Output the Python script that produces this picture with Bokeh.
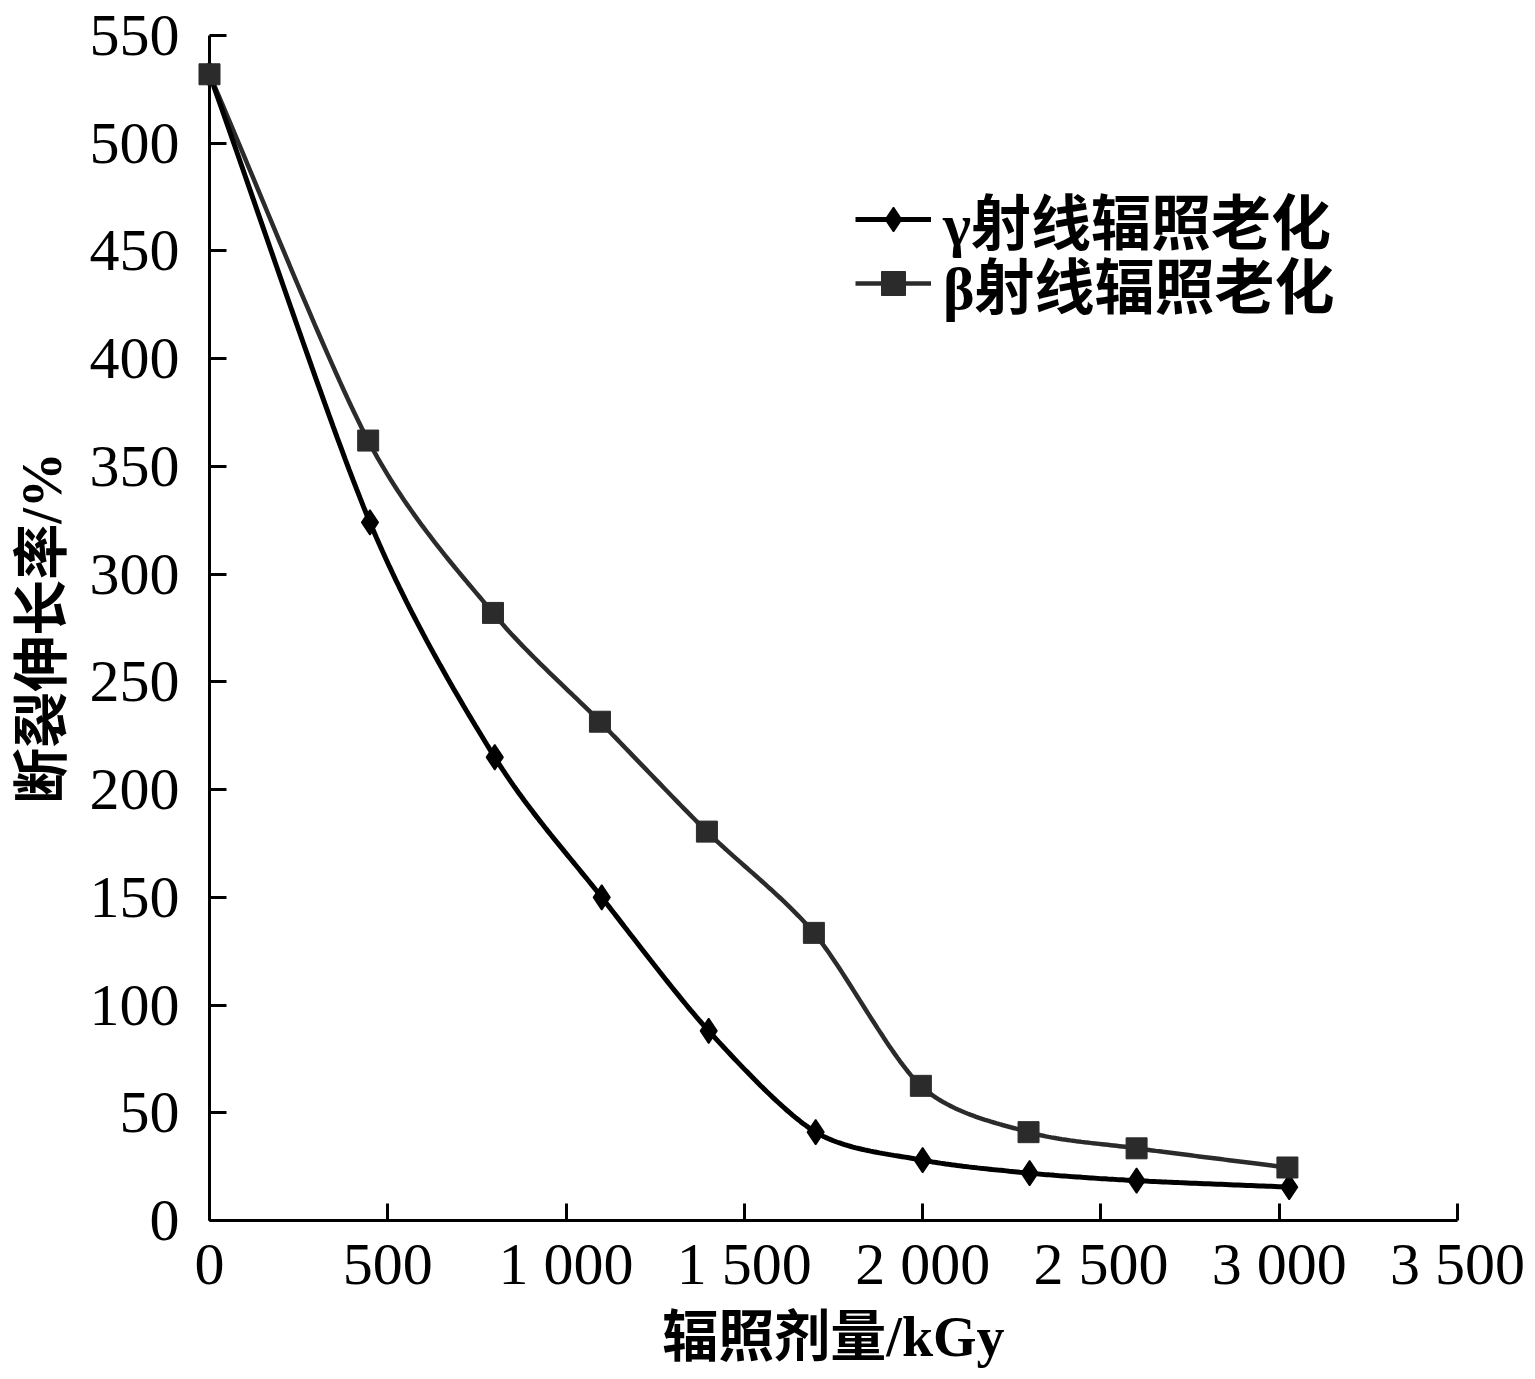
import numpy as np
from bokeh.plotting import figure
from bokeh.models import Range1d, Legend, LegendItem, FixedTicker
from bokeh.embed import file_html
from bokeh.resources import INLINE

# ---- data ----
gamma_dose = [0, 450, 800, 1100, 1400, 1700, 2000, 2300, 2600, 3028]
gamma_elong = [532, 324, 215, 150, 88, 41, 28, 22, 18.5, 15.5]
beta_dose = [0, 445, 795, 1095, 1395, 1695, 1995, 2297, 2600, 3023]
beta_elong = [532, 362, 282, 231.5, 180.5, 133.5, 62.5, 41, 33.5, 24.6]

x_ticks = [0, 500, 1000, 1500, 2000, 2500, 3000, 3500]
x_tick_labels = ["0", "500", "1 000", "1 500", "2 000", "2 500", "3 000", "3 500"]
y_ticks = [0, 50, 100, 150, 200, 250, 300, 350, 400, 450, 500, 550]

series_names = ["γ射线辐照老化", "β射线辐照老化"]
x_title = "辐照剂量/kGy"
y_title = "断裂伸长率/%"

X_MAX, Y_MAX = 3500, 550
FRAME_W, FRAME_H = 1248, 1185


def smooth(xs, ys, n=40):
    """Catmull-Rom style smoothing of the drawn line through the data points."""
    px = np.asarray(xs, float) / X_MAX * FRAME_W
    py = np.asarray(ys, float) / Y_MAX * FRAME_H
    P = np.column_stack([px, py])
    m = len(P)
    T = np.zeros_like(P)
    for i in range(m):
        if i == 0:
            T[i] = (P[1] - P[0])
        elif i == m - 1:
            T[i] = (P[-1] - P[-2])
        else:
            T[i] = (P[i + 1] - P[i - 1]) / 2.0
    out = []
    t = np.linspace(0, 1, n)
    h00 = 2 * t**3 - 3 * t**2 + 1
    h10 = t**3 - 2 * t**2 + t
    h01 = -2 * t**3 + 3 * t**2
    h11 = t**3 - t**2
    for i in range(m - 1):
        seg = (h00[:, None] * P[i] + h10[:, None] * T[i] * 0.85
               + h01[:, None] * P[i + 1] + h11[:, None] * T[i + 1] * 0.85)
        out.append(seg if i == 0 else seg[1:])
    S = np.vstack(out)
    return S[:, 0] / FRAME_W * X_MAX, S[:, 1] / FRAME_H * Y_MAX


p = figure(width=1535, height=1379, output_backend="svg", toolbar_location=None,
           x_range=Range1d(0, X_MAX), y_range=Range1d(0, Y_MAX),
           min_border_left=209, min_border_right=78, min_border_top=35,
           min_border_bottom=159)
p.xgrid.visible = False
p.ygrid.visible = False
p.outline_line_color = None
p.background_fill_color = "white"
p.border_fill_color = "white"

serif = "Liberation Serif"
mixed = "'Liberation Serif', 'Noto Sans CJK SC'"

for ax in (p.xaxis[0], p.yaxis[0]):
    ax.axis_line_width = 3
    ax.axis_line_color = "black"
    ax.major_tick_in = 17
    ax.major_tick_out = 0
    ax.major_tick_line_width = 3
    ax.major_tick_line_color = "black"
    ax.minor_tick_line_color = None
    ax.major_label_text_font = serif
    ax.major_label_text_font_size = "60px"
    ax.major_label_text_color = "black"
    ax.axis_label_text_font = mixed
    ax.axis_label_text_font_size = "56px"
    ax.axis_label_text_font_style = "bold"
    ax.axis_label_text_color = "black"

p.xaxis.ticker = FixedTicker(ticks=x_ticks)
p.xaxis.major_label_overrides = {t: s for t, s in zip(x_ticks, x_tick_labels)}
p.yaxis.ticker = FixedTicker(ticks=y_ticks)
p.xaxis.major_label_standoff = 10
p.yaxis.major_label_standoff = 30
p.xaxis.axis_label = x_title
p.yaxis.axis_label = y_title
p.xaxis.axis_label_standoff = 6
p.yaxis.axis_label_standoff = 14

gx, gy = smooth(gamma_dose, gamma_elong)
bx, by = smooth(beta_dose, beta_elong)

beta_color = "#2b2b2b"
gamma_color = "#000000"

r_bl = p.line(bx, by, line_color=beta_color, line_width=4.5)
r_gl = p.line(gx, gy, line_color=gamma_color, line_width=5)
r_gm = p.scatter(gamma_dose, gamma_elong, marker="diamond", size=25,
                 fill_color=gamma_color, line_color=gamma_color, line_width=1.5,
                 level="overlay")
r_bm = p.scatter(beta_dose, beta_elong, marker="square", size=21,
                 fill_color=beta_color, line_color=beta_color, level="overlay")


def make_legend(label, renderers, loc):
    lg = Legend(items=[LegendItem(label=label, renderers=renderers)],
                location=loc, orientation="vertical")
    lg.label_text_font = mixed
    lg.label_text_font_size = "60px"
    lg.label_text_font_style = "bold"
    lg.label_text_color = "black"
    lg.glyph_width = 76
    lg.glyph_height = 60
    lg.label_height = 60
    lg.spacing = 0
    lg.padding = 0
    lg.margin = 0
    lg.label_standoff = 12
    lg.border_line_color = None
    lg.background_fill_alpha = 0
    return lg


p.add_layout(make_legend(series_names[0], [r_gl, r_gm], (646, 958)))
p.add_layout(make_legend(series_names[1], [r_bl, r_bm], (646, 894)))

open("out.html", "w").write(file_html(p, INLINE))
